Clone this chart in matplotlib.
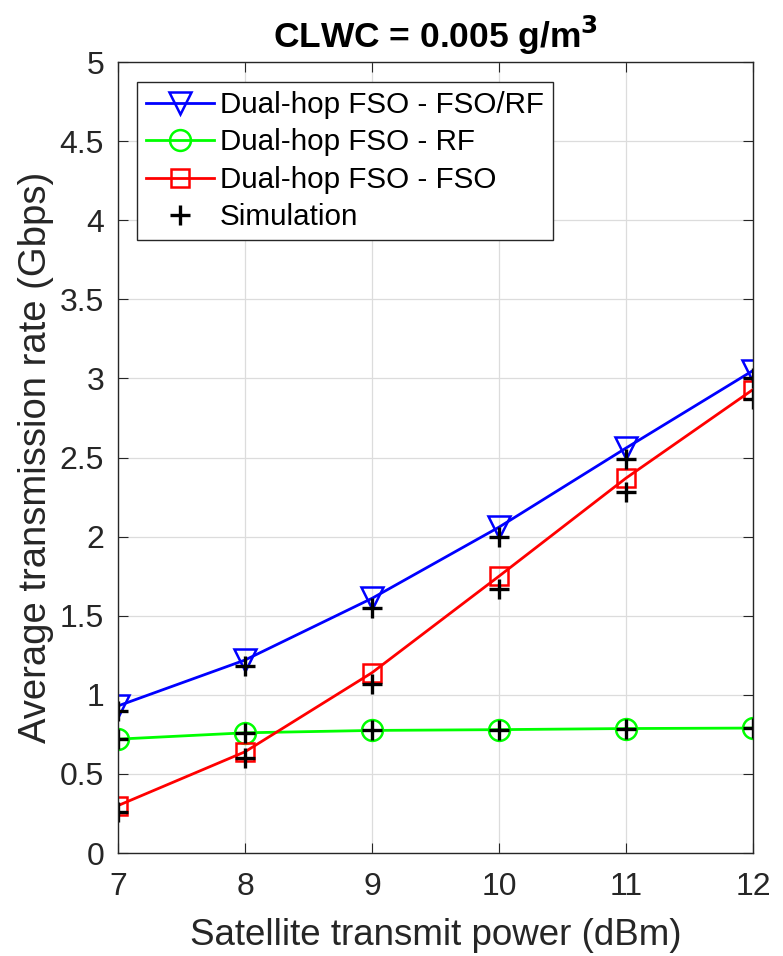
import numpy as np
import matplotlib
matplotlib.use("Agg")
import matplotlib.pyplot as plt

plt.rcParams["font.family"] = ["Liberation Sans", "DejaVu Sans"]

power_dbm = [7, 8, 9, 10, 11, 12]
rate_fso_rf = [0.93, 1.22, 1.61, 2.06, 2.56, 3.05]
rate_rf = [0.72, 0.76, 0.775, 0.78, 0.787, 0.79]
rate_fso = [0.30, 0.64, 1.14, 1.75, 2.37, 2.93]
sim_fso_rf = [0.90, 1.18, 1.55, 2.00, 2.49, 3.00]
sim_rf = [0.72, 0.76, 0.775, 0.78, 0.787, 0.79]
sim_fso = [0.26, 0.60, 1.07, 1.67, 2.28, 2.87]

fig = plt.figure(figsize=(7.83, 9.56), dpi=100)
ax = fig.add_axes([0.1507, 0.1077, 0.811, 0.8274])

ax.plot(power_dbm, rate_fso_rf, "-v", color="#0000ff", lw=2, ms=16,
        mfc="none", mew=1.8, label="Dual-hop FSO - FSO/RF")
ax.plot(power_dbm, rate_rf, "-o", color="#00ff00", lw=2, ms=15,
        mfc="none", mew=1.8, label="Dual-hop FSO - RF")
ax.plot(power_dbm, rate_fso, "-s", color="#ff0000", lw=2, ms=13,
        mfc="none", mew=1.8, label="Dual-hop FSO - FSO")
ax.plot(power_dbm, sim_fso_rf, "+", color="k", ms=14, mew=2.4, label="Simulation")
ax.plot(power_dbm, sim_rf, "+", color="k", ms=14, mew=2.4)
ax.plot(power_dbm, sim_fso, "+", color="k", ms=14, mew=2.4)

ax.set_xlim(7, 12)
ax.set_ylim(0, 5)
ax.set_xticks(power_dbm)
ax.set_yticks(np.arange(0, 5.01, 0.5))
ax.set_yticklabels(["0", "0.5", "1", "1.5", "2", "2.5", "3", "3.5", "4", "4.5", "5"])
ax.grid(True, color="#dcdcdc", lw=0.9)
ax.set_axisbelow(True)
ax.tick_params(direction="in", top=True, right=True, labelsize=23,
               colors="#262626", length=7)
ax.tick_params(axis="x", pad=14)
ax.tick_params(axis="y", pad=10)
for s in ax.spines.values():
    s.set_color("#262626")
    s.set_linewidth(1.0)

ax.set_xlabel("Satellite transmit power (dBm)", fontsize=26.5, color="#262626",
              labelpad=11)
ax.set_ylabel("Average transmission rate (Gbps)", fontsize=27.5, color="#262626",
              labelpad=4)
ax.set_title("CLWC = 0.005 g/m$^\\mathbf{3}$", fontsize=25.5, fontweight="bold", pad=10)

leg = ax.legend(loc="upper left", bbox_to_anchor=(0.030, 0.9747), fontsize=21.3,
                fancybox=False, edgecolor="#262626", framealpha=1,
                handlelength=2.3, borderpad=0.3, labelspacing=0.32,
                handletextpad=0.2, borderaxespad=0)
leg.get_frame().set_linewidth(1.0)

fig.savefig("out.png", dpi=100)
